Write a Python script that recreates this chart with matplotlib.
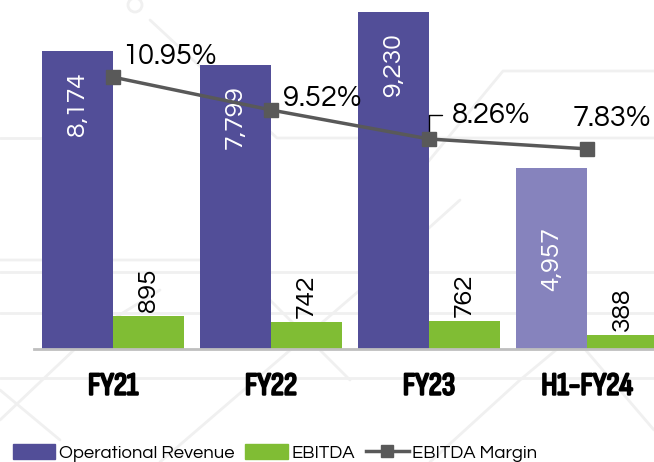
import matplotlib
matplotlib.use('Agg')
import matplotlib.pyplot as plt
import matplotlib.patheffects as pe
from matplotlib.lines import Line2D

# =============================================================================
# DATA
# =============================================================================
periods = ['FY21', 'FY22', 'FY23', 'H1-FY24']
revenue = [8174, 7799, 9230, 4957]
ebitda = [895, 742, 762, 388]
margin = [10.95, 9.52, 8.26, 7.83]

rev_labels = ['8,174', '7,799', '9,230', '4,957']
ebitda_labels = ['895', '742', '762', '388']
margin_labels = ['10.95%', '9.52%', '8.26%', '7.83%']

# =============================================================================
# STYLE
# =============================================================================
PURPLE = '#524E98'
PURPLE_LIGHT = '#8683BD'
GREEN = '#80BD34'
LINE = '#595959'
FONT = ['Questrial', 'Didact Gothic', 'Lato', 'DejaVu Sans']
TICK_FONT = ['Sofia Sans Condensed', 'Archivo Narrow', 'DejaVu Sans']
BAR_W = 0.45

fig = plt.figure(figsize=(6.54, 4.62), dpi=100)

# faint decorative background lines (pixel space)
bg = fig.add_axes([0, 0, 1, 1], zorder=0)
bg.set_xlim(0, 654)
bg.set_ylim(462, 0)
bg.axis('off')
deco = [
    ([150, 277, 654], [20, 138, 138]),
    ([0, 110], [138, 138]),
    ([654, 503, 380], [71, 71, 220]),
    ([0, 60, 654], [272, 272, 272]),
    ([0, 654], [313, 313]),
    ([0, 654], [378, 378]),
    ([0, 95, 160], [420, 330, 290]),
    ([160, 360, 460], [462, 290, 200]),
    ([430, 520, 580], [462, 380, 330]),
    ([350, 230, 0], [380, 260, 260]),
    ([0, 60], [390, 440]),
    ([560, 654], [320, 430]),
]
for xs, ys in deco:
    bg.plot(xs, ys, color='#F0F0F0', lw=2, solid_capstyle='round')
bg.add_patch(plt.Circle((135, 5), 7, fill=False, color='#F0F0F0', lw=2))

# main axes (extends past the right/top edge, like the cropped original)
ax = fig.add_axes([34 / 654, 113 / 462, 632 / 654, 364.6 / 462], zorder=1)
ax.patch.set_alpha(0)
x = list(range(len(periods)))
rev_colors = [PURPLE, PURPLE, PURPLE, PURPLE_LIGHT]
ax.bar([i - BAR_W / 2 for i in x], revenue, width=BAR_W, color=rev_colors,
       zorder=2)
ax.bar([i + BAR_W / 2 for i in x], ebitda, width=BAR_W, color=GREEN, zorder=2)

ax.set_xlim(-0.5, 3.5)
ax.set_ylim(0, 10000)
for s in ['top', 'right', 'left']:
    ax.spines[s].set_visible(False)
ax.spines['bottom'].set_color('#BFBFBF')
ax.spines['bottom'].set_linewidth(2)
ax.set_yticks([])
ax.set_xticks(x)
ax.set_xticklabels(periods, fontsize=23, fontweight='bold', family=TICK_FONT)
for lbl in ax.get_xticklabels():
    lbl.set_path_effects([pe.withStroke(linewidth=1.6, foreground='black')])
ax.tick_params(axis='x', length=0, pad=17)

# value labels on bars
for i in x:
    if i < 3:
        ax.annotate(rev_labels[i], (i - BAR_W / 2, revenue[i]),
                    xytext=(0, -15), textcoords='offset points',
                    rotation=90, ha='center', va='top', color='white',
                    fontsize=19, family=FONT, zorder=4)
    else:
        ax.text(i - BAR_W / 2, revenue[i] / 2, rev_labels[i], rotation=90,
                ha='center', va='center', color='white', fontsize=19,
                family=FONT, zorder=4)
    ax.annotate(ebitda_labels[i], (i + BAR_W / 2, ebitda[i]),
                xytext=(0, 3), textcoords='offset points',
                rotation=90, ha='center', va='bottom', color='black',
                fontsize=19, family=FONT, zorder=4)

# margin line on secondary axis
ax2 = ax.twinx()
ax2.set_ylim(-0.87, 14.98)
ax2.axis('off')
ax2.plot(x, margin, color=LINE, lw=2.5, marker='s', markersize=10, zorder=5)
offsets = [(6.5, 15), (8.6, 8.5), (16.5, 17), (-10.5, 22)]
for i in x:
    if i == 2:
        ax2.annotate(margin_labels[i], (i, margin[i]), xytext=offsets[i],
                     textcoords='offset points', ha='left', va='center',
                     fontsize=21, family=FONT,
                     arrowprops=dict(arrowstyle='-', color='black', lw=1,
                                     shrinkA=5, shrinkB=4,
                                     connectionstyle='angle,angleA=0,angleB=90,rad=0'))
    else:
        ax2.annotate(margin_labels[i], (i, margin[i]), xytext=offsets[i],
                     textcoords='offset points', ha='left', va='center',
                     fontsize=21, family=FONT)

# legend
handles = [
    plt.Rectangle((0, 0), 1, 1, color=PURPLE),
    plt.Rectangle((0, 0), 1, 1, color=GREEN),
    Line2D([0], [0], color=LINE, lw=2.5, marker='s', markersize=8),
]
fig.legend(handles, ['Operational Revenue', 'EBITDA', 'EBITDA Margin'],
           loc='center left', bbox_to_anchor=(-0.006, 0.02), ncol=3,
           frameon=False, prop={'family': FONT, 'size': 13.3},
           handlelength=2.3, handleheight=0.9, handletextpad=0.2,
           columnspacing=0.6)

fig.savefig('out.png', dpi=100)
